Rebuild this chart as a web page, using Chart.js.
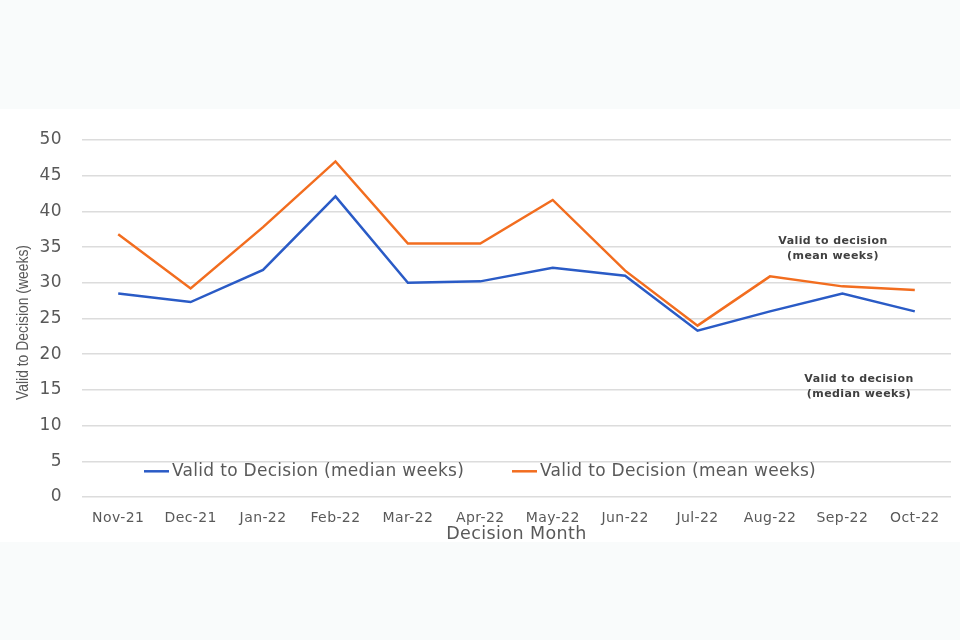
<!DOCTYPE html>
<html>
<head>
<meta charset="utf-8">
<script src="https://cdn.jsdelivr.net/npm/chart.js@4.4.0/dist/chart.umd.min.js"></script>
<style>
  html, body { margin: 0; padding: 0; background: #f9fbfb; }
  #panel { position: absolute; left: 0; top: 109px; width: 960px; height: 433px; background: #ffffff; }
</style>
</head>
<body>
<div id="panel"><canvas id="lineChart" width="960" height="433"></canvas></div>
<script>
// Decision months
const months = ['Nov-21', 'Dec-21', 'Jan-22', 'Feb-22', 'Mar-22', 'Apr-22', 'May-22', 'Jun-22', 'Jul-22', 'Aug-22', 'Sep-22', 'Oct-22'];
// Valid to decision, weeks
const medianWeeks = [28.5, 27.3, 31.8, 42.1, 30.0, 30.2, 32.1, 31.0, 23.3, 26.0, 28.5, 26.0];
const meanWeeks = [36.8, 29.2, 37.8, 47.0, 35.5, 35.5, 41.6, 31.7, 24.0, 30.9, 29.5, 29.0];
const yTicks = [0, 5, 10, 15, 20, 25, 30, 35, 40, 45, 50];

const textGrey = '#595959';

// the picture's text is a bit spread out, so space the letters on the whole canvas
const spacing = {
    id: 'spacing',
    beforeDraw(chart) {
        chart.ctx.letterSpacing = '0.4px';
    }
};

// y title is squeezed sideways in the original, draw it by hand
const yTitle = {
    id: 'yTitle',
    afterDraw(chart) {
        const c = chart.ctx;
        const a = chart.chartArea;
        const text = 'Valid to Decision (weeks)';
        c.save();
        c.letterSpacing = '0px';
        c.font = '17px "Liberation Sans"';
        const w = c.measureText(text).width;
        c.translate(23, (a.top + a.bottom) / 2 + 4);
        c.rotate(-Math.PI / 2);
        c.scale(155 / w, 1);
        c.fillStyle = textGrey;
        c.textAlign = 'center';
        c.textBaseline = 'middle';
        c.fillText(text, 0, 0);
        c.restore();
    }
};

// legend drawn inside the plot, just under the 5 gridline
const innerLegend = {
    id: 'innerLegend',
    afterDraw(chart) {
        const c = chart.ctx;
        const y = chart.scales.y.getPixelForValue(3.6);
        const starts = [144, 512];
        c.save();
        c.letterSpacing = '0.3px';
        c.font = '17px "DejaVu Sans"';
        c.textBaseline = 'middle';
        chart.data.datasets.forEach((ds, i) => {
            const x = starts[i];
            c.strokeStyle = ds.borderColor;
            c.lineWidth = 2.5;
            c.beginPath();
            c.moveTo(x, y);
            c.lineTo(x + 25, y);
            c.stroke();
            c.fillStyle = textGrey;
            c.fillText(ds.label, x + 28, y);
        });
        c.restore();
    }
};

// the two text notes on the right
const notes = {
    id: 'notes',
    afterDraw(chart) {
        const c = chart.ctx;
        const y = chart.scales.y;
        c.save();
        c.letterSpacing = '0.4px';
        c.font = 'bold 11px "DejaVu Sans"';
        c.fillStyle = '#404040';
        c.textAlign = 'center';
        c.textBaseline = 'middle';
        c.fillText('Valid to decision', 833, y.getPixelForValue(35.8));
        c.fillText('(mean weeks)', 833, y.getPixelForValue(33.7));
        c.fillText('Valid to decision', 859, y.getPixelForValue(16.5));
        c.fillText('(median weeks)', 859, y.getPixelForValue(14.4));
        c.restore();
    }
};

const ctx = document.getElementById('lineChart').getContext('2d');
const lineChart = new Chart(ctx, {
    type: 'line',
    data: {
        labels: months,
        datasets: [
            {
                label: 'Valid to Decision (median weeks)',
                data: medianWeeks,
                borderColor: '#2a5bc6',
                borderWidth: 2.5,
                pointRadius: 0,
                tension: 0
            },
            {
                label: 'Valid to Decision (mean weeks)',
                data: meanWeeks,
                borderColor: '#f26d1f',
                borderWidth: 2.5,
                pointRadius: 0,
                tension: 0
            }
        ]
    },
    options: {
        responsive: false,
        animation: false,
        layout: { padding: { top: 31, right: 9, left: 0, bottom: 0 } },
        scales: {
            x: {
                offset: true,
                grid: { display: false },
                border: { display: false },
                ticks: {
                    color: textGrey,
                    font: { family: 'DejaVu Sans', size: 14 },
                    padding: 5,
                    maxRotation: 0,
                    autoSkip: false
                },
                title: {
                    display: true,
                    text: 'Decision Month',
                    color: textGrey,
                    font: { family: 'DejaVu Sans', size: 17.5 },
                    padding: { top: 0, bottom: -3 }
                },
                afterFit: (s) => { s.height = 45; }
            },
            y: {
                min: 0,
                max: 50,
                afterBuildTicks: (s) => { s.ticks = yTicks.map(v => ({ value: v })); },
                grid: { color: '#dcdcdc', lineWidth: 1.5, drawTicks: false },
                border: { display: false },
                ticks: {
                    color: textGrey,
                    font: { family: 'DejaVu Sans', size: 17 },
                    padding: 20
                },
                afterFit: (s) => { s.width = 82; }
            }
        },
        plugins: {
            legend: { display: false },
            tooltip: { enabled: false }
        }
    },
    plugins: [spacing, yTitle, innerLegend, notes]
});
</script>
</body>
</html>
